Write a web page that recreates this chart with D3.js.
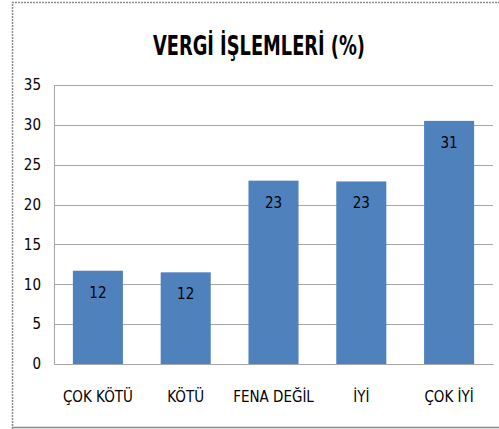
<!DOCTYPE html>
<html>
<head>
<meta charset="utf-8">
<script src="https://cdn.jsdelivr.net/npm/d3@7"></script>
<style>
  body { margin: 0; background: #fff; }
  svg text { font-family: "DejaVu Sans Condensed", "Liberation Sans Narrow", "Open Sans", sans-serif; }
</style>
</head>
<body>
<script>
// chart data
var categories = ["ÇOK KÖTÜ", "KÖTÜ", "FENA DEĞİL", "İYİ", "ÇOK İYİ"];
var values = [11.7, 11.5, 23.0, 22.9, 30.5];
var valueLabels = ["12", "12", "23", "23", "31"];
var yTicks = [0, 5, 10, 15, 20, 25, 30, 35];
var title = "VERGİ İŞLEMLERİ (%)";

var svgWidth = 499, svgHeight = 429;
var margin = { top: 85, right: 6, bottom: 65, left: 54 };
var width = svgWidth - margin.left - margin.right;
var height = svgHeight - margin.top - margin.bottom;

var svg = d3.select("body").append("svg")
  .attr("width", svgWidth)
  .attr("height", svgHeight);

// outer frame
svg.append("path")
  .attr("d", "M12.5,429 L12.5,2.5 L499,2.5")
  .attr("fill", "none")
  .attr("stroke", "#8c8c8c")
  .attr("stroke-width", 1.5)
  .attr("stroke-dasharray", "2,1");
svg.append("line")
  .attr("x1", 12).attr("x2", 499)
  .attr("y1", 427.5).attr("y2", 427.5)
  .attr("stroke", "#8c8c8c")
  .attr("stroke-width", 1.5);

// title, squeezed to the narrow width of the original
svg.append("text")
  .attr("x", 259)
  .attr("y", 55)
  .attr("text-anchor", "middle")
  .attr("font-size", 26)
  .attr("font-weight", "bold")
  .attr("fill", "#000")
  .attr("textLength", 212)
  .attr("lengthAdjust", "spacingAndGlyphs")
  .text(title);

var chartGroup = svg.append("g")
  .attr("transform", "translate(" + margin.left + "," + margin.top + ")");

var xScale = d3.scaleBand()
  .domain(categories)
  .range([0, width])
  .paddingInner(0.43)
  .paddingOuter(0.215);

var yScale = d3.scaleLinear()
  .domain([0, 35])
  .range([height, 0]);

// gridlines
chartGroup.append("g")
  .selectAll("line")
  .data(yTicks.slice(1))
  .enter()
  .append("line")
  .attr("x1", 0)
  .attr("x2", width)
  .attr("y1", d => Math.round(yScale(d)) + 0.5)
  .attr("y2", d => Math.round(yScale(d)) + 0.5)
  .attr("stroke", "#a6a6a6")
  .attr("stroke-width", 1);

// y axis
var yAxis = d3.axisLeft(yScale).tickValues(yTicks).tickSize(0).tickPadding(13);
var yG = chartGroup.append("g").call(yAxis);
yG.select(".domain").attr("stroke", "#a6a6a6");
yG.selectAll("text").attr("font-size", 15).attr("fill", "#000");

// bars
chartGroup.selectAll("rect.bar")
  .data(values)
  .enter()
  .append("rect")
  .attr("class", "bar")
  .attr("x", (d, i) => xScale(categories[i]))
  .attr("y", d => yScale(d))
  .attr("width", xScale.bandwidth())
  .attr("height", d => height - yScale(d))
  .attr("fill", "#4f81bd");

// value labels
chartGroup.selectAll("text.val")
  .data(values)
  .enter()
  .append("text")
  .attr("class", "val")
  .attr("x", (d, i) => xScale(categories[i]) + xScale.bandwidth() / 2)
  .attr("y", d => yScale(d) + 27)
  .attr("text-anchor", "middle")
  .attr("font-size", 15)
  .attr("fill", "#000")
  .text((d, i) => valueLabels[i]);

// x axis
var xAxis = d3.axisBottom(xScale).tickSize(0).tickPadding(27);
var xG = chartGroup.append("g")
  .attr("transform", "translate(0," + height + ")")
  .call(xAxis);
xG.select(".domain").attr("stroke", "#a6a6a6");
xG.selectAll("text").attr("font-size", 15).attr("fill", "#000");
</script>
</body>
</html>
